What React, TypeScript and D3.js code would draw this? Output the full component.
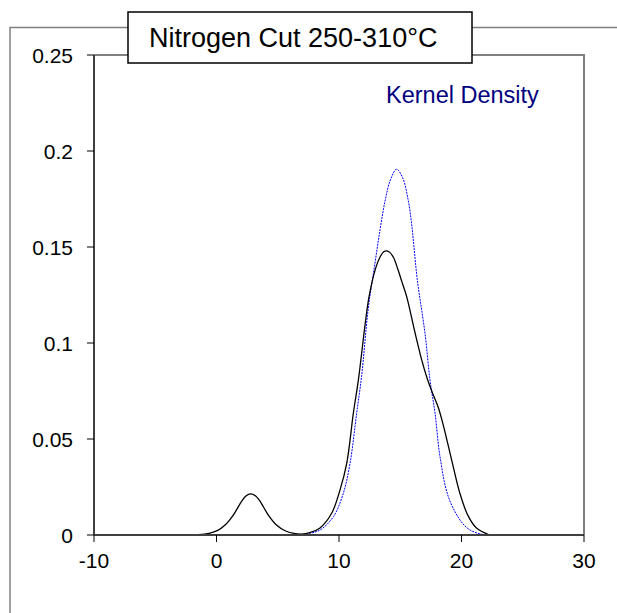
import React from "react";
import * as d3 from "d3";

const titleText = "Nitrogen Cut 250-310°C";
const legendText = "Kernel Density";
const xTicks = [-10, 0, 10, 20, 30];
const yTicks = [0, 0.05, 0.1, 0.15, 0.2, 0.25];
const yTickLabels = ["0", "0.05", "0.1", "0.15", "0.2", "0.25"];

// black curve (observed kernel density)
const blackX = [-1.5, -0.6, 0.1, 0.7, 1.37, 2.06, 2.4, 2.79, 3.2, 3.55, 4.23, 4.9, 5.6, 6.3, 7.0, 7.6, 8.45, 9.4, 10.08, 10.63, 11.17, 11.58, 12.45, 13.02, 13.35, 13.65, 13.9, 14.15, 14.45, 14.8, 15.12, 15.53, 16.2, 16.75, 17.2, 17.6, 18.1, 18.5, 18.92, 19.4, 19.88, 20.5, 21.2, 22.3];
const blackY = [0.0002, 0.0009, 0.0024, 0.0052, 0.0104, 0.0176, 0.0203, 0.0214, 0.0203, 0.0176, 0.0104, 0.0052, 0.0022, 0.0008, 0.0004, 0.0012, 0.0037, 0.0113, 0.0234, 0.0373, 0.0634, 0.0807, 0.124, 0.1395, 0.1448, 0.1475, 0.148, 0.1472, 0.1445, 0.1385, 0.1322, 0.124, 0.1055, 0.0912, 0.0815, 0.0745, 0.0665, 0.0575, 0.0465, 0.0335, 0.0215, 0.0105, 0.0038, 0];

// blue dotted curve (normal reference)
const blueX = [-1.5, 6.0, 7.5, 8.45, 9.54, 10.35, 10.9, 11.44, 11.85, 12.39, 12.9, 13.35, 13.76, 14.2, 14.7, 15.2, 15.66, 15.93, 16.12, 16.39, 17.02, 17.43, 17.84, 18.24, 18.92, 19.88, 20.6, 21.5, 22.3];
const blueY = [0, 0.0001, 0.0008, 0.0026, 0.0095, 0.0217, 0.0373, 0.0634, 0.083, 0.118, 0.14, 0.159, 0.174, 0.185, 0.1905, 0.186, 0.174, 0.162, 0.15, 0.133, 0.105, 0.0807, 0.0634, 0.041, 0.02, 0.0078, 0.003, 0.0006, 0];

const W = 617;
const H = 613;
const plot = { left: 94, top: 55, right: 584, bottom: 535 };
const FONT = "'Liberation Sans', Arial, sans-serif";

export default function App() {
  const x = d3.scaleLinear().domain([-10, 30]).range([plot.left, plot.right]);
  const y = d3.scaleLinear().domain([0, 0.25]).range([plot.bottom, plot.top]);
  const line = d3
    .line<[number, number]>()
    .x((d) => x(d[0]))
    .y((d) => Math.min(plot.bottom, y(d[1])))
    .curve(d3.curveCatmullRom.alpha(0.5));
  const blackPts = blackX.map((v, i) => [v, blackY[i]] as [number, number]);
  const bluePts = blueX.map((v, i) => [v, blueY[i]] as [number, number]);

  return (
    <svg
      width={W}
      height={H}
      style={{ position: "absolute", left: 0, top: 0, background: "#fff" }}
      fontFamily={FONT}
    >
      <rect x={0} y={0} width={W} height={H} fill="#fff" />
      {/* outer frame */}
      <path d={`M10,${H} L10,27.5 L${W},27.5`} fill="none" stroke="#808080" strokeWidth={1.5} />
      {/* plot border top/right */}
      <path
        d={`M${plot.left},${plot.top} L${plot.right},${plot.top} L${plot.right},${plot.bottom}`}
        fill="none"
        stroke="#808080"
        strokeWidth={2}
      />
      {/* curves */}
      <path d={line(bluePts) || ""} fill="none" stroke="#0000ff" strokeWidth={1} strokeDasharray="2,1" />
      <path d={line(blackPts) || ""} fill="none" stroke="#000" strokeWidth={1.3} />
      {/* axes */}
      <line x1={plot.left} y1={plot.top} x2={plot.left} y2={plot.bottom} stroke="#404040" strokeWidth={2} />
      <line x1={plot.left} y1={plot.bottom} x2={plot.right} y2={plot.bottom} stroke="#404040" strokeWidth={2} />
      {yTicks.map((t, i) => (
        <g key={"y" + i}>
          <line x1={plot.left - 7} x2={plot.left} y1={y(t)} y2={y(t)} stroke="#000" strokeWidth={1} />
          <text x={73} y={y(t)} dy="0.36em" textAnchor="end" fontSize={21} fill="#000">
            {yTickLabels[i]}
          </text>
        </g>
      ))}
      {xTicks.map((t, i) => (
        <g key={"x" + i}>
          <line x1={x(t)} x2={x(t)} y1={plot.bottom} y2={plot.bottom + 7} stroke="#000" strokeWidth={1} />
          <text x={x(t)} y={568} textAnchor="middle" fontSize={21} fill="#000">
            {t}
          </text>
        </g>
      ))}
      {/* legend text */}
      <text x={386} y={103} fontSize={23.5} fill="#000080">
        {legendText}
      </text>
      {/* title box */}
      <rect x={128} y={12} width={344} height={51} fill="#fff" stroke="#000" strokeWidth={1.5} />
      <text x={149} y={47} fontSize={27} fill="#000">
        {titleText}
      </text>
    </svg>
  );
}
